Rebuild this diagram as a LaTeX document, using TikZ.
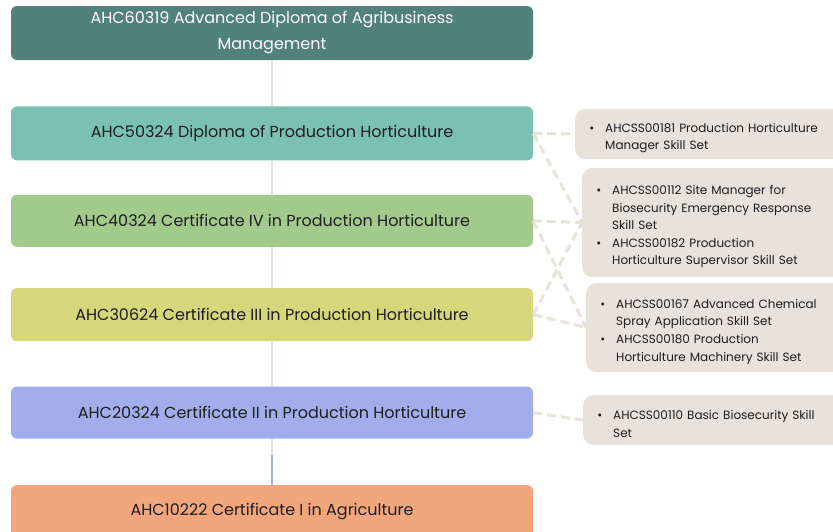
\documentclass[tikz,border=0pt]{standalone}
\usepackage{fontspec}
\setmainfont{Poppins}
\usetikzlibrary{positioning}
\definecolor{sixcol}{HTML}{52807A}
\definecolor{fivecol}{HTML}{7BC1B1}
\definecolor{fourcol}{HTML}{A2CA8C}
\definecolor{threecol}{HTML}{D6D67A}
\definecolor{twocol}{HTML}{A1AEEB}
\definecolor{onecol}{HTML}{F2A67C}
\definecolor{skillfill}{HTML}{E7E2DA}
\definecolor{linebeige}{HTML}{E8E3D9}
\definecolor{textdark}{HTML}{1E1E1E}
\tikzstyle{levelbox} = [rectangle, rounded corners=6pt, minimum width=522pt,
    minimum height=53pt, inner sep=4pt, align=center, text=textdark,
    font=\fontsize{16}{26}\selectfont]
\tikzstyle{skillbox} = [rectangle, rounded corners=10pt, fill=skillfill,
    anchor=west, inner xsep=14pt, inner ysep=4pt, text width=244pt, align=left,
    text=textdark, font=\fontsize{12}{17.6}\selectfont]
\tikzstyle{trunk} = [line width=2.5pt, draw=linebeige]
\tikzstyle{dashlink} = [line width=3pt, draw=linebeige, dash pattern=on 9pt off 5pt]
\newenvironment{skilllist}{\begin{list}{\textbullet\hspace{11pt}}{%
    \setlength{\leftmargin}{16pt}\setlength{\labelwidth}{16pt}%
    \setlength{\labelsep}{0pt}\setlength{\itemsep}{0pt}\setlength{\parsep}{0pt}%
    \setlength{\topsep}{0pt}\setlength{\partopsep}{0pt}}}{\end{list}}

\begin{document}
\begin{tikzpicture}[x=1pt, y=-1pt]
\clip (0,0) rectangle (833,531);
% qualification ladder
\node[levelbox, fill=sixcol, text=white, minimum height=54pt] at (272,33) (levelsix)
    {AHC60319 Advanced Diploma of Agribusiness\\Management};
\node[levelbox, fill=fivecol, minimum height=54pt, below=46pt of levelsix] (levelfive)
    {AHC50324 Diploma of Production Horticulture};
\node[levelbox, fill=fourcol, minimum height=52pt, below=34pt of levelfive] (levelfour)
    {AHC40324 Certificate IV in Production Horticulture};
\node[levelbox, fill=threecol, below=41pt of levelfour] (levelthree)
    {AHC30624 Certificate III in Production Horticulture};
\node[levelbox, fill=twocol, minimum height=52pt, below=45pt of levelthree] (leveltwo)
    {AHC20324 Certificate II in Production Horticulture};
\node[levelbox, fill=onecol, minimum height=54pt, below=46pt of leveltwo] (levelone)
    {AHC10222 Certificate I in Agriculture};

\draw[trunk] (levelsix.south) -- (levelfive.north);
\draw[trunk] (levelfive.south) -- (levelfour.north);
\draw[trunk] (levelfour.south) -- (levelthree.north);
\draw[trunk] (levelthree.south) -- (leveltwo.north);
\coordinate[below=16pt of leveltwo.south] (stub);
\draw[trunk, draw=twocol] (stub) -- (levelone.north);
\draw[trunk] (leveltwo.south) -- (stub);

% skill sets
\node[skillbox, minimum height=50pt] at (575,134) (skillfive){
    \begin{skilllist}
    \item AHCSS00181 Production Horticulture\\Manager Skill Set
    \end{skilllist}};
\node[skillbox, minimum height=109pt] at (582,222.5) (skillfour){
    \begin{skilllist}
    \item AHCSS00112 Site Manager for\\Biosecurity Emergency Response\\Skill Set
    \item AHCSS00182 Production\\Horticulture Supervisor Skill Set
    \end{skilllist}};
\node[skillbox, minimum height=89pt] at (586,327.5) (skillthree){
    \begin{skilllist}
    \item AHCSS00167 Advanced Chemical\\Spray Application Skill Set
    \item AHCSS00180 Production\\Horticulture Machinery Skill Set
    \end{skilllist}};
\node[skillbox, minimum height=50pt] at (583,420) (skilltwo){
    \begin{skilllist}
    \item AHCSS00110 Basic Biosecurity Skill\\Set
    \end{skilllist}};

\draw[dashlink] (levelfive.east) -- (skillfive.west);
\draw[dashlink] (levelfive.east) -- (skillfour.west);
\draw[dashlink] (levelfour.east) -- (skillfour.west);
\draw[dashlink] (levelfour.east) -- (skillthree.west);
\draw[dashlink] (levelthree.east) -- (skillfour.west);
\draw[dashlink] (levelthree.east) -- (skillthree.west);
\draw[dashlink] (leveltwo.east) -- (skilltwo.west);
\end{tikzpicture}
\end{document}
